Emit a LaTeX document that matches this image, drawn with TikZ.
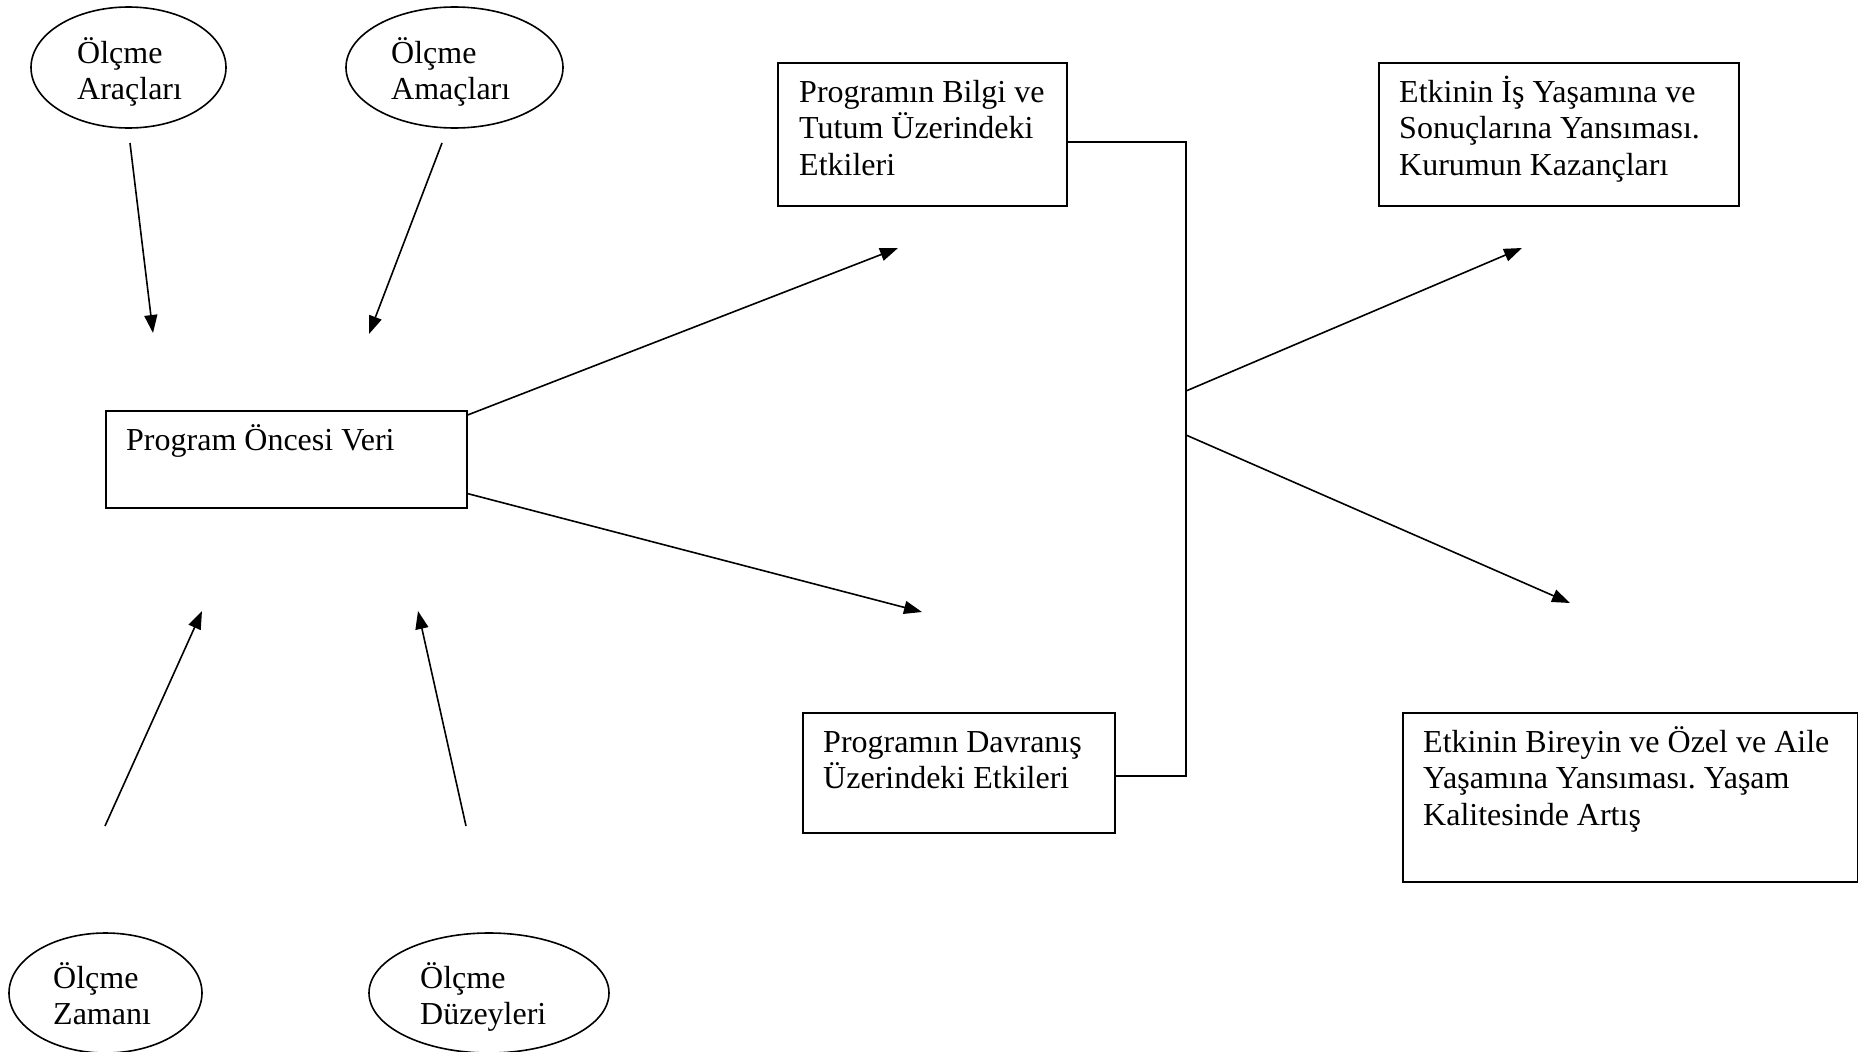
\documentclass[tikz,border=0pt]{standalone}
\usepackage{fontspec}
\setmainfont{Liberation Serif}
\usetikzlibrary{arrows.meta,shapes.geometric,calc}
\frenchspacing
\newcommand\bodysize{\fontsize{32pt}{36.5pt}\selectfont}
% fixed first-line height so that text nodes can be placed by their first baseline
\newcommand\lnstrut{\rule{0pt}{30pt}}
\tikzset{
  line/.style={line width=1.6pt},
  arr/.style={line, -{Triangle[length=18pt,width=13pt]}},
  box/.style={draw, line, rectangle, anchor=north west, inner sep=0pt},
  oval/.style={draw, line, ellipse, inner sep=0pt},
  txt/.style={font=\bodysize, align=left, inner sep=0pt, anchor=north west},
}
\begin{document}
\begin{tikzpicture}[x=1pt, y=-1pt]
\useasboundingbox (0,0) rectangle (1858,1052);

% measurement ovals
\node[oval, minimum width=195pt, minimum height=121pt] (araclar) at (128.5,67.5) {};
\node[oval, minimum width=217pt, minimum height=121pt] (amaclar) at (454.5,67.5) {};
\node[oval, minimum width=193pt, minimum height=120pt] (zaman) at (105.5,993) {};
\node[oval, minimum width=240pt, minimum height=120pt] (duzey) at (489,993) {};
\node[txt] (araclar-t) at (77,33) {\lnstrut Ölçme\\Araçları};
\node[txt] (amaclar-t) at (391,33) {\lnstrut Ölçme\\Amaçları};
\node[txt] (zaman-t) at (53,958) {\lnstrut Ölçme\\Zamanı};
\node[txt] (duzey-t) at (420,958) {\lnstrut Ölçme\\Düzeyleri};

% boxes
\node[box, minimum width=361pt, minimum height=97pt] (prog) at (105,410) {};
\node[box, minimum width=289pt, minimum height=143pt] (bilgi) at (777,62) {};
\node[box, minimum width=312pt, minimum height=120pt] (davr) at (802,712) {};
\node[box, minimum width=360pt, minimum height=143pt] (isy) at (1378,62) {};
\node[box, minimum width=455pt, minimum height=169pt] (birey) at (1402,712) {};
\node[txt] (prog-t) at (126,420) {\lnstrut Program Öncesi Veri};
\node[txt] (bilgi-t) at (799,72) {\lnstrut Programın Bilgi ve\\Tutum Üzerindeki\\Etkileri};
\node[txt] (davr-t) at (823,722) {\lnstrut Programın Davranış\\Üzerindeki Etkileri};
\node[txt] (isy-t) at (1399,72) {\lnstrut Etkinin İş Yaşamına ve\\Sonuçlarına Yansıması.\\Kurumun Kazançları};
\node[txt] (birey-t) at (1423,722) {\lnstrut Etkinin Bireyin ve Özel ve Aile\\Yaşamına Yansıması. Yaşam\\Kalitesinde Artış};

% free ends of the arrows
\coordinate (a1s) at (130,143);  \coordinate (a1e) at (153,333);
\coordinate (a2s) at (442,143);  \coordinate (a2e) at (369,334);
\coordinate (a3s) at (105,826);  \coordinate (a3e) at (202,611);
\coordinate (a4s) at (466,826);  \coordinate (a4e) at (418,611);
\coordinate (a5e) at (898,248);
\coordinate (a6e) at (922,612);
\coordinate (jtop) at (1186,142);
\coordinate (jbot) at (1186,776);
\coordinate (b1s) at (1186,391); \coordinate (b1e) at (1522,248);
\coordinate (b2s) at (1186,435); \coordinate (b2e) at (1570,603);

% inputs to the pre-programme data
\draw[arr] (a1s) -- (a1e);
\draw[arr] (a2s) -- (a2e);
\draw[arr] (a3s) -- (a3e);
\draw[arr] (a4s) -- (a4e);

% programme effects
\draw[arr] ($(prog.north east)+(0,5)$) -- (a5e);
\draw[arr] ($(prog.south east)+(0,-15)$) -- (a6e);

% bracket joining the two effect boxes
\draw[line] (bilgi.east |- jtop) -- (jtop) -- (jbot) -- (davr.east |- jbot);

% outcomes
\draw[arr] (b1s) -- (b1e);
\draw[arr] (b2s) -- (b2e);
\end{tikzpicture}
\end{document}
